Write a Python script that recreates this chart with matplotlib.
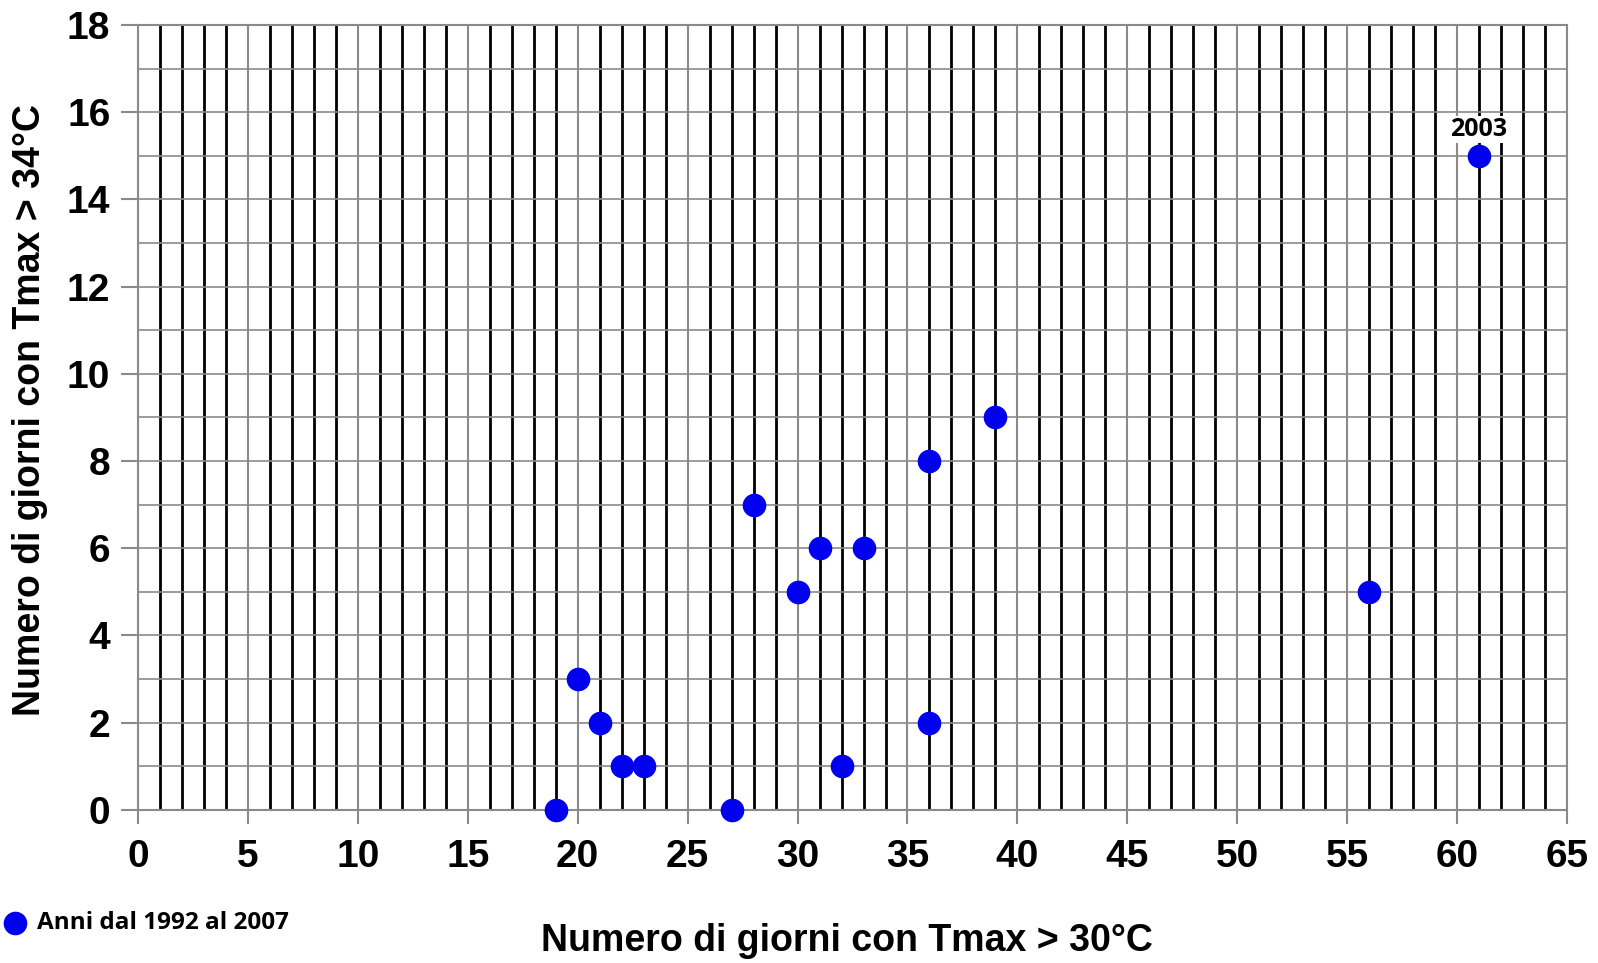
import matplotlib
matplotlib.use("Agg")
import matplotlib.pyplot as plt
import numpy as np

# Giorni con Tmax > 30°C e > 34°C, anni 1992-2007
giorni_30 = [19, 20, 21, 22, 23, 27, 28, 30, 31, 32, 33, 36, 36, 39, 56, 61]
giorni_34 = [0, 3, 2, 1, 1, 0, 7, 5, 6, 1, 6, 8, 2, 9, 5, 15]
label_anno = "2003"
label_x, label_y = 61, 15

plt.rcParams['font.family'] = ['Liberation Sans', 'DejaVu Sans']

fig = plt.figure(figsize=(15.98, 9.63), dpi=100)
ax = fig.add_axes([0.0864, 0.159, 0.9806 - 0.0864, 0.974 - 0.159])

ax.set_xlim(0, 65)
ax.set_ylim(0, 18)
ax.set_xticks(np.arange(0, 66, 5))
ax.set_xticks(np.arange(0, 66, 1), minor=True)
ax.set_yticks(np.arange(0, 19, 2))
ax.set_yticks(np.arange(0, 19, 1), minor=True)

# griglia
ax.grid(which='minor', axis='x', color='black', linewidth=2.0)
ax.grid(which='major', axis='x', color='#8a8a8a', linewidth=1.5)
ax.grid(which='both', axis='y', color='#8a8a8a', linewidth=1.2)
ax.set_axisbelow(True)
for s in ax.spines.values():
    s.set_color('#8a8a8a')
    s.set_linewidth(1.5)

ax.tick_params(axis='x', which='major', length=10, width=1.5, color='#8a8a8a',
               labelsize=28, pad=11)
ax.tick_params(axis='y', which='major', length=12, width=1.5, color='#8a8a8a',
               labelsize=28, pad=8)
ax.tick_params(which='minor', length=0)
for t in ax.get_xticklabels() + ax.get_yticklabels():
    t.set_fontweight('bold')

ax.plot(giorni_30, giorni_34, 'o', color='#0000ee', markersize=16,
        linestyle='none', zorder=5, clip_on=False)
ax.annotate(label_anno, (label_x, label_y), xytext=(0, 10), textcoords='offset points',
            ha='center', va='bottom', fontsize=18, fontweight='bold',
            family=['Open Sans', 'DejaVu Sans'],
            bbox=dict(boxstyle='square,pad=0.05', fc='white', ec='none'))

ax.set_ylabel("Numero di giorni con Tmax > 34°C", fontsize=27, fontweight='bold')
ax.yaxis.set_label_coords(-0.063, 0.51)
fig.text(0.53, 0.023, "Numero di giorni con Tmax > 30°C", ha='center', va='center',
         fontsize=27, fontweight='bold')

# legenda
fig.lines.append(plt.Line2D([0.0095], [0.0415], transform=fig.transFigure, marker='o',
                            color='#0000ee', markersize=16, linestyle='none'))
fig.text(0.023, 0.0415, "Anni dal 1992 al 2007", ha='left', va='center', fontsize=17.5,
         fontweight='bold', family=['Open Sans', 'DejaVu Sans'])

fig.savefig("out.png", dpi=100)
